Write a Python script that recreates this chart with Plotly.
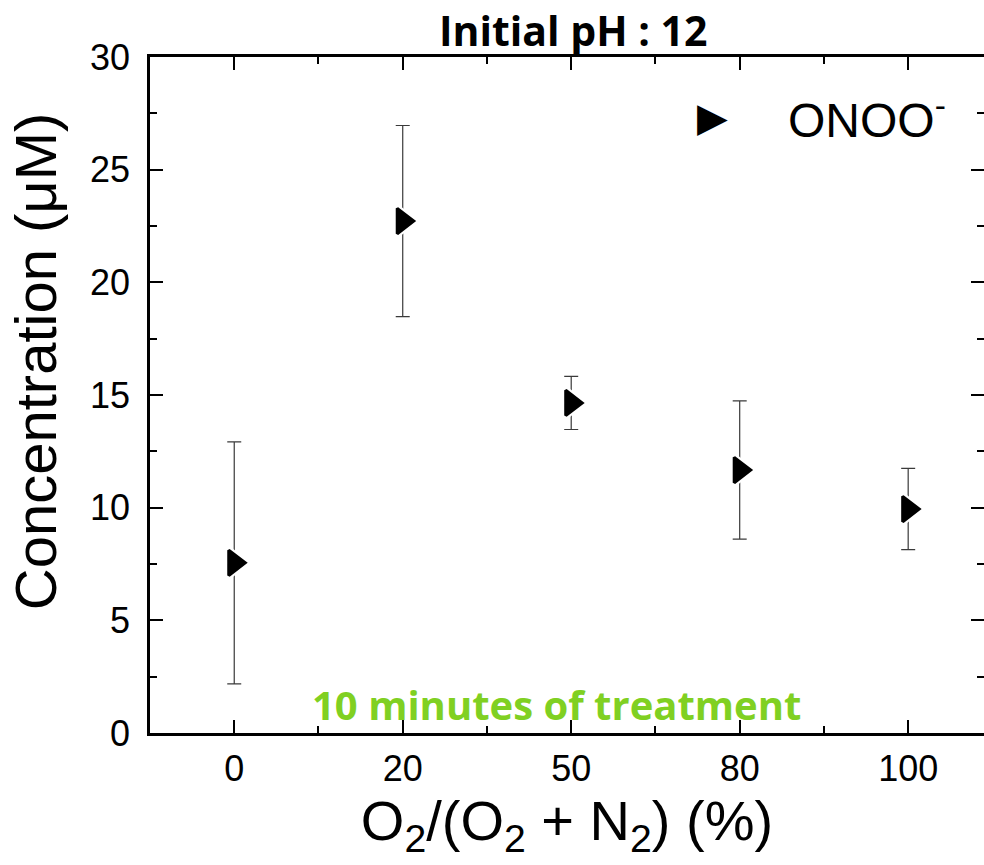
import plotly.graph_objects as go

# O2 fraction in the feed gas (%), plotted as evenly spaced categories
o2_ratio = ["0", "20", "50", "80", "100"]
onoo_conc = [7.55, 22.72, 14.65, 11.67, 9.94]
onoo_err = [5.37, 4.24, 1.18, 3.07, 1.80]

y_ticks = [0, 5, 10, 15, 20, 25, 30]

x_pos = list(range(len(o2_ratio)))

AXIS_FONT = "Liberation Sans, Arial, sans-serif"
BOLD_FONT = "Open Sans, sans-serif"

fig = go.Figure()

# error bars + white halo so the bar stops short of the marker
fig.add_trace(
    go.Scatter(
        x=x_pos,
        y=onoo_conc,
        mode="markers",
        marker={"symbol": "triangle-right", "size": 34, "color": "white"},
        error_y={
            "type": "data",
            "array": onoo_err,
            "color": "#3a3a3a",
            "thickness": 1.2,
            "width": 7,
        },
        showlegend=False,
        hoverinfo="skip",
    )
)
fig.add_trace(
    go.Scatter(
        x=x_pos,
        y=onoo_conc,
        mode="markers",
        marker={
            "symbol": "triangle-right",
            "size": 22,
            "color": "black",
            "line": {"color": "black", "width": 3},
        },
        name="ONOO<sup>-</sup>",
        showlegend=False,
    )
)

fig.update_xaxes(
    range=[-0.5, 4.45],
    automargin=False,
    tickmode="array",
    tickvals=x_pos,
    ticktext=o2_ratio,
    ticks="inside",
    ticklen=13,
    tickwidth=2,
    tickcolor="black",
    minor={
        "tickmode": "array",
        "tickvals": [v + 0.5 for v in x_pos],
        "ticks": "inside",
        "ticklen": 7,
        "tickwidth": 2,
        "tickcolor": "black",
    },
    showline=True,
    linewidth=2.5,
    linecolor="black",
    mirror="ticks",
    showgrid=False,
    zeroline=False,
    tickfont={"family": AXIS_FONT, "size": 36, "color": "black"},
    ticklabelstandoff=2,
    title={
        "text": "O<sub>2</sub>/(O<sub>2</sub> + N<sub>2</sub>) (%)",
        "font": {"family": AXIS_FONT, "size": 56, "color": "black"},
        "standoff": 5,
    },
)
fig.update_yaxes(
    range=[0, 30],
    automargin=False,
    tickmode="array",
    tickvals=y_ticks,
    ticks="inside",
    ticklen=13,
    tickwidth=2,
    tickcolor="black",
    minor={
        "tickmode": "array",
        "tickvals": [v + 2.5 for v in y_ticks[:-1]],
        "ticks": "inside",
        "ticklen": 7,
        "tickwidth": 2,
        "tickcolor": "black",
    },
    showline=True,
    linewidth=2.5,
    linecolor="black",
    mirror="ticks",
    showgrid=False,
    zeroline=False,
    tickfont={"family": AXIS_FONT, "size": 36, "color": "black"},
    ticklabelstandoff=10,
)

# y title sits a bit above the plot centre in the original, so placed by hand
fig.add_annotation(
    text="Concentration (μM)",
    textangle=-90,
    xref="paper",
    yref="paper",
    x=0,
    y=0.55,
    xanchor="center",
    yanchor="middle",
    xshift=-115,
    showarrow=False,
    font={"family": AXIS_FONT, "size": 58, "color": "black"},
)
fig.add_annotation(
    text="<b>Initial pH : 12</b>",
    xref="paper",
    yref="paper",
    x=0.507,
    y=1,
    yanchor="bottom",
    yshift=-3,
    showarrow=False,
    font={"family": BOLD_FONT, "size": 41, "color": "black"},
)
fig.add_annotation(
    text="<b>10 minutes of treatment</b>",
    xref="paper",
    yref="paper",
    x=0.487,
    y=0.042,
    yanchor="middle",
    showarrow=False,
    font={"family": BOLD_FONT, "size": 40, "color": "#80d022"},
)
# legend drawn by hand to keep the large symbol and text
fig.add_annotation(
    text="▶",
    xref="paper",
    yref="paper",
    x=0.674,
    y=0.911,
    xanchor="center",
    yanchor="middle",
    showarrow=False,
    font={"family": "DejaVu Sans", "size": 40, "color": "black"},
)
fig.add_annotation(
    text="ONOO<sup>-</sup>",
    xref="paper",
    yref="paper",
    x=0.762,
    y=0.911,
    xanchor="left",
    yanchor="middle",
    showarrow=False,
    font={"family": AXIS_FONT, "size": 48, "color": "black"},
)

fig.update_layout(
    width=984,
    height=865,
    margin={"l": 150, "r": 0, "t": 57, "b": 132},
    plot_bgcolor="white",
    paper_bgcolor="white",
    showlegend=False,
)

# page margin off so the 984x865 figure fills the window exactly
fig.write_html(
    "out.html",
    config={"responsive": False, "displayModeBar": False},
    post_script="document.body.style.margin='0';document.body.style.overflow='hidden';",
)
